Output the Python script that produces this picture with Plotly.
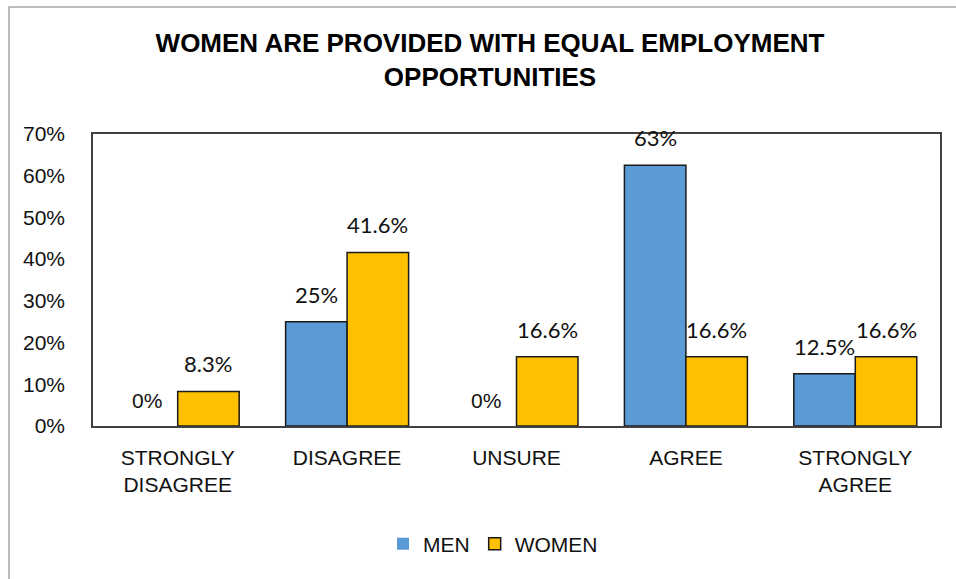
import plotly.graph_objects as go

categories = ["STRONGLY<br>DISAGREE", "DISAGREE", "UNSURE", "AGREE", "STRONGLY<br>AGREE"]
men_values = [0, 25, 0, 62.5, 12.5]
men_labels = ["0%", "25%", "0%", "63%", "12.5%"]
women_values = [8.3, 41.6, 16.6, 16.6, 16.6]
women_labels = ["8.3%", "41.6%", "16.6%", "16.6%", "16.6%"]
y_ticks = [0, 10, 20, 30, 40, 50, 60, 70]
y_tick_text = ["0%", "10%", "20%", "30%", "40%", "50%", "60%", "70%"]
title_text = "<b>WOMEN ARE PROVIDED WITH EQUAL EMPLOYMENT<br>OPPORTUNITIES</b>"

W, H = 956, 579
ML, MR, MT, MB = 93, 16, 134, 153

fig = go.Figure()
fig.add_trace(go.Bar(name="MEN", x=categories, y=men_values,
                     marker=dict(color="#5B9BD5",
                                 line=dict(color="#1a1a1a",
                                           width=[0 if v == 0 else 1.5 for v in men_values]))))
fig.add_trace(go.Bar(name="WOMEN", x=categories, y=women_values,
                     marker=dict(color="#FFC000",
                                 line=dict(color="#1a1a1a",
                                           width=[0 if v == 0 else 1.5 for v in women_values]))))

ann = []
half = 30.7
for c, v, t in zip(categories, men_values, men_labels):
    fam = "Liberation Sans, Arial" if v == 0 else "Lato, Carlito, Calibri"
    ann.append(dict(x=c, y=v, text=t, xref="x", yref="y", showarrow=False,
                    xshift=-half, yshift=12, yanchor="bottom",
                    font=dict(family=fam, size=21 if v == 0 else 22, color="#111")))
for c, v, t in zip(categories, women_values, women_labels):
    ann.append(dict(x=c, y=v, text=t, xref="x", yref="y", showarrow=False,
                    xshift=half, yshift=12, yanchor="bottom",
                    font=dict(family="Lato, Carlito, Calibri", size=22, color="#111")))

pw = W - ML - MR
ph = H - MT - MB
def px_x(p):
    return (p - ML) / pw
def px_y(p):
    return (H - MB - p) / ph

fig.update_layout(
    width=W, height=H,
    margin=dict(l=ML, r=MR, t=MT, b=MB),
    paper_bgcolor="white", plot_bgcolor="white",
    barmode="group", bargap=0.274, bargroupgap=0,
    title=dict(text=title_text, x=490 / W, xanchor="center", xref="container",
               y=1 - 52 / H, yanchor="top", yref="container",
               font=dict(family="Liberation Sans, Arial", size=26, color="#000")),
    font=dict(family="Liberation Sans, Arial", size=21, color="#111"),
    xaxis=dict(showline=True, linecolor="#404040", linewidth=1.5, mirror=True,
               showgrid=False, ticks="", ticklabelstandoff=12,
               tickfont=dict(size=21, color="#111")),
    yaxis=dict(range=[0, 70], tickvals=y_ticks, ticktext=y_tick_text,
               showline=True, linecolor="#404040", linewidth=1.5, mirror=True,
               showgrid=False, zeroline=False, ticks="", ticklabelstandoff=22,
               tickfont=dict(size=21, color="#111")),
    legend=dict(orientation="h", x=px_x(493), xanchor="center",
                y=px_y(544), yanchor="middle",
                font=dict(size=21, color="#111"), traceorder="normal",
                itemwidth=30),
    annotations=ann,
    shapes=[dict(type="rect", xref="paper", yref="paper",
                 x0=px_x(9), x1=px_x(975), y0=px_y(600), y1=px_y(7),
                 line=dict(color="#A6A6A6", width=1.5), layer="below")],
    showlegend=True,
)

fig.write_html("out.html", config={"displayModeBar": False},
               post_script="document.body.style.margin='0';document.body.style.overflow='hidden';")
